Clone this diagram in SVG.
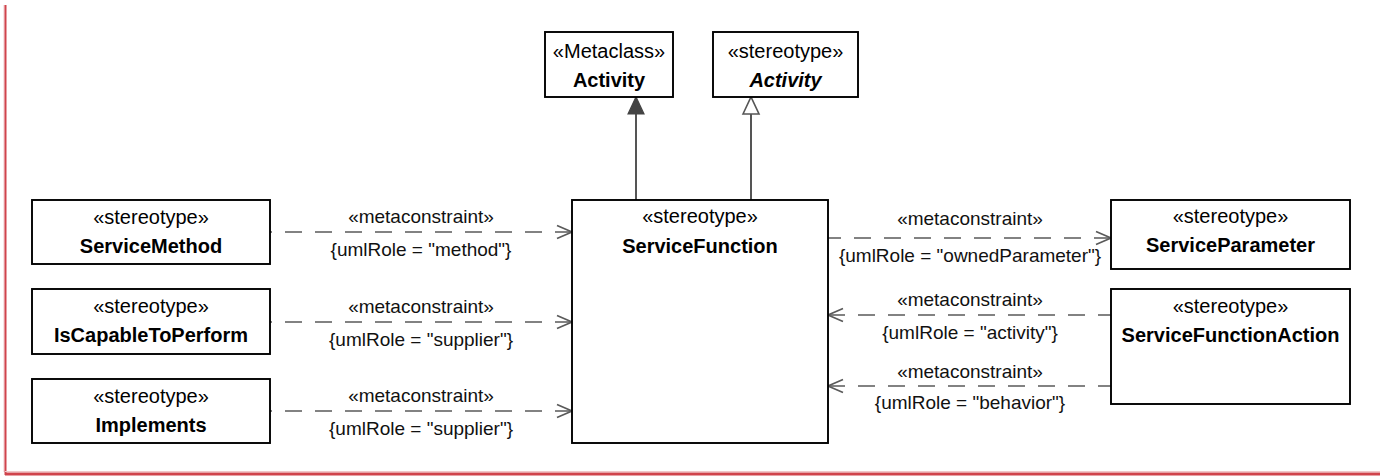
<svg xmlns="http://www.w3.org/2000/svg" width="1380" height="476" viewBox="0 0 1380 476">
<style>
.box{fill:#fff;stroke:#000;stroke-width:1.9}
.st{font-family:"Liberation Sans",Arial,sans-serif;font-size:20px;fill:#000;text-anchor:middle}
.nm{font-family:"Liberation Sans",Arial,sans-serif;font-size:20px;font-weight:bold;fill:#000;text-anchor:middle}
.it{font-style:italic}
.lb{font-family:"Liberation Sans",Arial,sans-serif;font-size:19px;fill:#111;text-anchor:middle}
.dep{fill:none;stroke:#5a5a5a;stroke-width:1.7;stroke-dasharray:17 13;marker-start:url(#open)}
.gen{fill:none;stroke:#555;stroke-width:2}
</style>
<defs>
<marker id="open" markerUnits="userSpaceOnUse" orient="auto-start-reverse" refX="0" refY="0" markerWidth="20" markerHeight="20" overflow="visible">
<path d="M-15,-6.5 L0,0 L-15,6.5" fill="none" stroke="#5a5a5a" stroke-width="1.7" stroke-dasharray="none"/>
</marker>
<marker id="triFilled" markerUnits="userSpaceOnUse" orient="auto" refX="0" refY="0" markerWidth="20" markerHeight="20" overflow="visible">
<path d="M-17,-8 L0,0 L-17,8 Z" fill="#444" stroke="#444" stroke-width="1.2"/>
</marker>
<marker id="triHollow" markerUnits="userSpaceOnUse" orient="auto" refX="0" refY="0" markerWidth="20" markerHeight="20" overflow="visible">
<path d="M-17,-8 L0,0 L-17,8 Z" fill="#fff" stroke="#555" stroke-width="1.6"/>
</marker>
</defs>
<rect width="1380" height="476" fill="#fff"/>
<g id="frame">
<line x1="4" y1="5" x2="4" y2="472" stroke="#f0c8ca" stroke-width="1"/>
<line x1="5.5" y1="5" x2="5.5" y2="475" stroke="#d0444c" stroke-width="2"/>
<line x1="5" y1="471.5" x2="1380" y2="471.5" stroke="#f0c8ca" stroke-width="1"/>
<line x1="5" y1="474" x2="1380" y2="474" stroke="#d0444c" stroke-width="3"/>
</g>
<g id="connectors">
<path class="gen" d="M636,200 L636,97" marker-end="url(#triFilled)"/>
<path class="gen" d="M751,200 L751,97" marker-end="url(#triHollow)"/>
<path class="dep" d="M572,232 L270,232"/>
<path class="dep" d="M572,322 L270,322"/>
<path class="dep" d="M572,411 L270,411"/>
<path class="dep" d="M1111,238 L828,238"/>
<path class="dep" d="M828,315 L1111,315"/>
<path class="dep" d="M828,386 L1111,386"/>
<text class="lb" x="421" y="223">«metaconstraint»</text>
<text class="lb" x="421" y="256">{umlRole = "method"}</text>
<text class="lb" x="421" y="313">«metaconstraint»</text>
<text class="lb" x="421" y="346">{umlRole = "supplier"}</text>
<text class="lb" x="421" y="402">«metaconstraint»</text>
<text class="lb" x="421" y="435">{umlRole = "supplier"}</text>
<text class="lb" x="970" y="225">«metaconstraint»</text>
<text class="lb" x="970" y="262">{umlRole = "ownedParameter"}</text>
<text class="lb" x="970" y="306">«metaconstraint»</text>
<text class="lb" x="970" y="339">{umlRole = "activity"}</text>
<text class="lb" x="970" y="378">«metaconstraint»</text>
<text class="lb" x="970" y="409">{umlRole = "behavior"}</text>
</g>
<g id="metaclassActivity">
<rect class="box" x="545" y="32" width="128" height="65"/>
<text class="st" x="609" y="58">«Metaclass»</text>
<text class="nm" x="609" y="87">Activity</text>
</g>
<g id="stereotypeActivity">
<rect class="box" x="713" y="32" width="145" height="65"/>
<text class="st" x="785.5" y="58">«stereotype»</text>
<text class="nm it" x="785.5" y="87">Activity</text>
</g>
<g id="serviceFunction">
<rect class="box" x="572" y="200" width="256" height="243"/>
<text class="st" x="700" y="223">«stereotype»</text>
<text class="nm" x="700" y="253">ServiceFunction</text>
</g>
<g id="serviceMethod">
<rect class="box" x="32" y="200" width="238" height="64"/>
<text class="st" x="151" y="224">«stereotype»</text>
<text class="nm" x="151" y="253">ServiceMethod</text>
</g>
<g id="isCapableToPerform">
<rect class="box" x="32" y="289" width="238" height="65"/>
<text class="st" x="151" y="313">«stereotype»</text>
<text class="nm" x="151" y="342">IsCapableToPerform</text>
</g>
<g id="implements">
<rect class="box" x="32" y="379" width="238" height="64"/>
<text class="st" x="151" y="403">«stereotype»</text>
<text class="nm" x="151" y="432">Implements</text>
</g>
<g id="serviceParameter">
<rect class="box" x="1111" y="200" width="239" height="69"/>
<text class="st" x="1230.5" y="223">«stereotype»</text>
<text class="nm" x="1230.5" y="252">ServiceParameter</text>
</g>
<g id="serviceFunctionAction">
<rect class="box" x="1111" y="289" width="239" height="115"/>
<text class="st" x="1230.5" y="313">«stereotype»</text>
<text class="nm" x="1230.5" y="342">ServiceFunctionAction</text>
</g>
</svg>
